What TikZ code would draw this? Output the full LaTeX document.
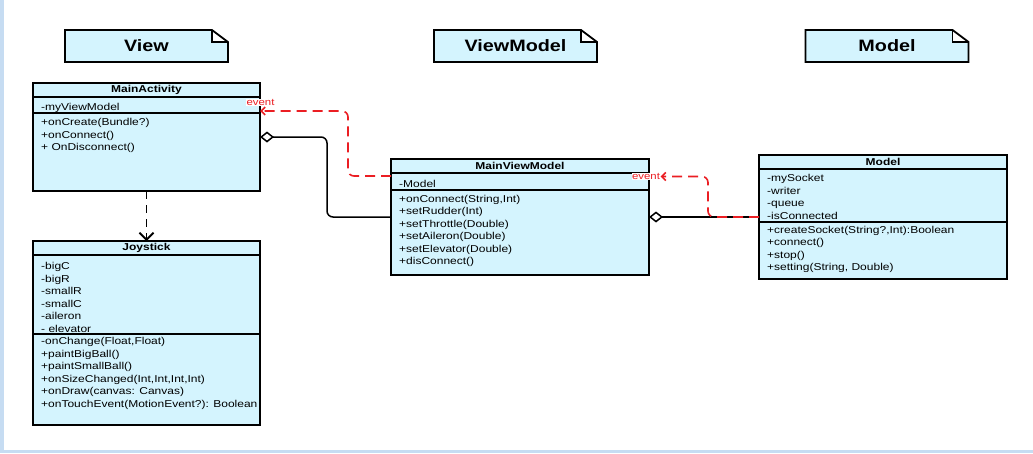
\documentclass[tikz,border=0pt]{standalone}
\usepackage{fontspec}
\setmainfont{Liberation Sans}[FakeStretch=1.2]
\usepackage{xcolor}
\usepackage{tikz}
\usetikzlibrary{arrows.meta}

\definecolor{classfill}{RGB}{212,244,254}
\definecolor{framestrip}{RGB}{198,220,242}
\definecolor{eventred}{RGB}{235,30,35}

\tikzset{
  umlclass/.style={draw,line width=1.6pt,fill=classfill,anchor=north west,inner sep=0pt,outer sep=0pt},
  layernote/.style={fill=classfill,inner sep=0pt,outer sep=0pt,minimum width=163pt,minimum height=32pt,
    font=\fontsize{16.5}{18}\selectfont\bfseries},
  classname/.style={inner sep=0pt,font=\fontsize{10}{12.5}\selectfont\bfseries},
  members/.style={anchor=north west,align=left,inner sep=0pt,font=\fontsize{10}{12.5}\selectfont},
  sepline/.style={line width=1.2pt},
  aggr/.style={line width=1.5pt,rounded corners=6pt,{Diamond[fill=white,length=14pt,width=11pt]}-},
  usesarrow/.style={line width=1.9pt,dash pattern=on 8pt off 6pt,-{Straight Barb[length=7pt,width=14pt]}},
  event/.style={draw=eventred,line width=1.6pt,dash pattern=on 10pt off 6pt,rounded corners=6pt,
    -{Straight Barb[length=4pt,width=8pt]}},
  eventlabel/.style={text=eventred,fill=white,inner sep=0.5pt,font=\fontsize{9.5}{10}\selectfont}
}

\begin{document}
\begin{tikzpicture}[x=1pt,y=-1pt]
\useasboundingbox (0,0) rectangle (1033,453);
\fill[white] (0,0) rectangle (1033,453);
\fill[framestrip] (0,0) rectangle (4,453);
\fill[framestrip] (0,449.5) rectangle (1033,453);

% layer notes
\node (viewnote) [layernote] at (146.5,46) {View};
\node (vmnote) [layernote] at (515.5,46) {ViewModel};
\node (modelnote) [layernote] at (887,46) {Model};
\foreach \n in {viewnote,vmnote,modelnote} {
  \fill[white] ([xshift=-16pt]\n.north east) rectangle ([yshift=-12pt]\n.north east);
  \draw[line width=1.8pt,line join=miter] (\n.north west) -- ([xshift=-16pt]\n.north east)
    -- ([yshift=-12pt]\n.north east) -- (\n.south east) -- (\n.south west) -- cycle;
  \draw[line width=1.4pt] ([xshift=-16pt]\n.north east) |- ([yshift=-12pt]\n.north east);
}

% MainActivity
\node (act) [umlclass,minimum width=227pt,minimum height=108pt] at (33,83) {};
\node (actname) [classname] at (146.5,90) {MainActivity};
\draw[sepline] (act.north west) ++(0,14) -- ++(227,0);
\draw[sepline] (act.north west) ++(0,30) -- ++(227,0);
\node (actattr) [members] at (41,103.4) {-myViewModel};
\node (actops) [members] at (41,118.4) {+onCreate(Bundle?)\\+onConnect()\\+ OnDisconnect()};

% Joystick
\node (joy) [umlclass,minimum width=227pt,minimum height=184pt] at (33,241) {};
\node (joyname) [classname] at (146.5,248) {Joystick};
\draw[sepline] (joy.north west) ++(0,14) -- ++(227,0);
\draw[sepline] (joy.north west) ++(0,93) -- ++(227,0);
\node (joyattr) [members] at (41,262.1) {-bigC\\-bigR\\-smallR\\-smallC\\-aileron\\- elevator};
\node (joyops) [members] at (41,337.1) {-onChange(Float,Float)\\+paintBigBall()\\+paintSmallBall()\\
  +onSizeChanged(Int,Int,Int,Int)\\+onDraw(canvas: Canvas)\\+onTouchEvent(MotionEvent?): Boolean};

% MainViewModel
\node (mvm) [umlclass,minimum width=258pt,minimum height=116pt] at (391,159) {};
\node (mvmname) [classname] at (520,166) {MainViewModel};
\draw[sepline] (mvm.north west) ++(0,14) -- ++(258,0);
\draw[sepline] (mvm.north west) ++(0,31) -- ++(258,0);
\node (mvmattr) [members] at (399,180.1) {-Model};
\node (mvmops) [members] at (399,194.7) {+onConnect(String,Int)\\+setRudder(Int)\\+setThrottle(Double)\\
  +setAileron(Double)\\+setElevator(Double)\\+disConnect()};

% Model
\node (model) [umlclass,minimum width=248pt,minimum height=124pt] at (759,155) {};
\node (modelname) [classname] at (883,161.7) {Model};
\draw[sepline] (model.north west) ++(0,14) -- ++(248,0);
\draw[sepline] (model.north west) ++(0,67) -- ++(248,0);
\node (modelattr) [members] at (767,174.1) {-mySocket\\-writer\\-queue\\-isConnected};
\node (modelops) [members] at (767,225.7) {+createSocket(String?,Int):Boolean\\+connect()\\+stop()\\
  +setting(String, Double)};

% connectors
\draw[usesarrow] (act.south) -- (joy.north);
\draw[aggr] (act.east) -- ++(67,0) |- (mvm.west);
\draw[aggr] (mvm.east) -- (model.west);
\draw[event] ([yshift=41pt]mvm.west) -- ++(-43,0) |- ([yshift=26pt]act.east);
\node (ev1) [eventlabel] at (260.5,102.5) {event};
\node (ev2) [eventlabel] at (646,176.5) {event};
\draw[event] (model.west) -- ++(-51,0) |- (ev2.east);
\end{tikzpicture}
\end{document}
